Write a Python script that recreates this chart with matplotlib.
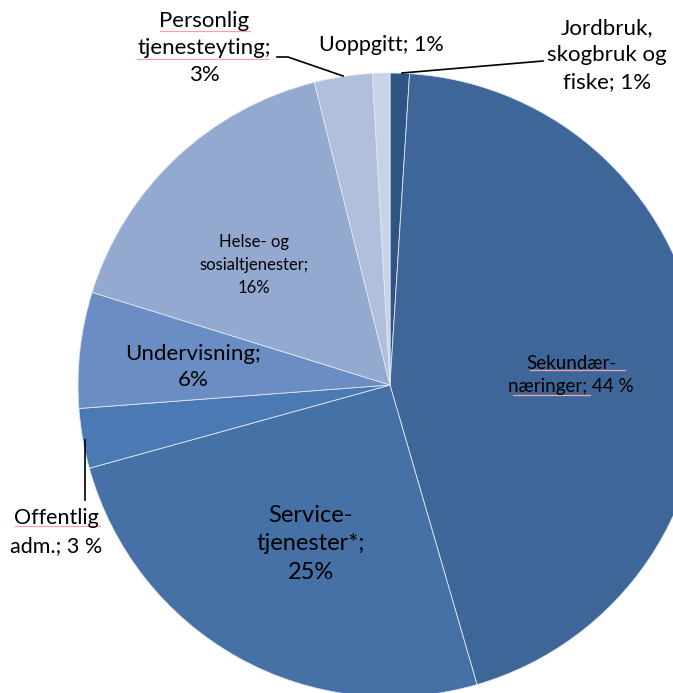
import matplotlib.pyplot as plt

# Share of employment by industry (per cent), clockwise from the top
sectors = ['Jordbruk', 'Sekundærnæringer', 'Servicetjenester', 'Offentlig adm.',
           'Undervisning', 'Helse og sosial', 'Personlig tjenesteyting', 'Uoppgitt']
shares = [1.0, 44.5, 25.2, 3.1, 6.0, 16.3, 3.0, 0.9]
colors = ['#2f5584', '#3e6698', '#4571a7', '#4a79b4',
          '#6a8ec3', '#93a9d0', '#b0c0dc', '#c9d3e8']

W, H = 673, 693
CX, CY, R = 390, 385, 312  # pie centre and radius in pixels


def px(x, y):
    # pixel position -> data coordinates (radius 1 = R pixels)
    return (x - CX) / R, (CY - y) / R


fig = plt.figure(figsize=(W / 100, H / 100), dpi=100)
ax = fig.add_axes([0, 0, 1, 1])
ax.pie(shares, colors=colors, startangle=90, counterclock=False, radius=1,
       wedgeprops=dict(edgecolor='#dfe6f2', linewidth=0.6))
ax.set_xlim(px(0, 0)[0], px(W, 0)[0])
ax.set_ylim(px(0, H)[1], px(0, 0)[1])
ax.set_aspect('auto')
ax.axis('off')

font = ['Lato', 'DejaVu Sans']
# text, x, y (pixels), font size, line spacing
labels = [
    ('Jordbruk,\nskogbruk og\nfiske; 1%', 607, 55, 16, 1.45),
    ('Sekundær-\nnæringer; 44 %', 571, 375, 13.5, 1.4),
    ('Service-\ntjenester*;\n25%', 311, 544, 17, 1.45),
    ('Offentlig\nadm.; 3 %', 56, 532, 15.5, 1.45),
    ('Undervisning;\n6%', 193, 367, 16, 1.35),
    ('Helse- og\nsosialtjenester;\n16%', 254, 265, 12, 1.55),
    ('Personlig\ntjenesteyting;\n3%', 204, 48, 16, 1.45),
    ('Uoppgitt; 1%', 381, 45, 15.5, 1.2),
]
for text, x, y, size, ls in labels:
    tx, ty = px(x, y)
    ax.text(tx, ty, text, ha='center', va='center', fontsize=size,
            family=font, linespacing=ls, color='black')

# leader lines
leaders = [
    [(277, 57), (288, 57), (343, 76)],
    [(402, 73), (543, 61)],
    [(85, 440), (85, 500)],
]
for pts in leaders:
    xs, ys = zip(*[px(x, y) for x, y in pts])
    ax.plot(xs, ys, color='black', linewidth=1.2, clip_on=False)

# faint spell-check underlines seen in the source
squiggles = [
    [(160, 31), (250, 31)],
    [(137, 59), (268, 59)],
    [(15, 526), (100, 526)],
    [(530, 370), (625, 370)],
    [(513, 395), (590, 395)],
]
for pts in squiggles:
    xs, ys = zip(*[px(x, y) for x, y in pts])
    ax.plot(xs, ys, color='#f2a4a4', linewidth=0.9, clip_on=False)

fig.savefig('out.png', dpi=100)
